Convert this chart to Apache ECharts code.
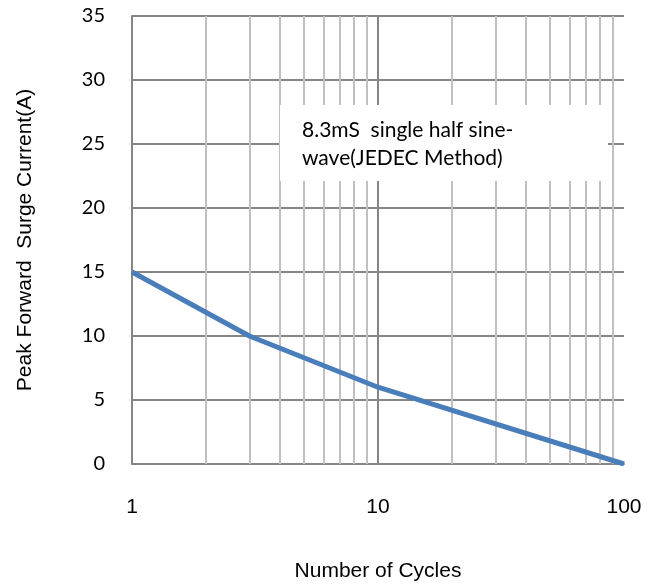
<!DOCTYPE html>
<html>
<head>
<meta charset="utf-8">
<script src="https://cdn.jsdelivr.net/npm/echarts@6/dist/echarts.min.js"></script>
<style>html,body{margin:0;padding:0;background:#fff}#c{width:660px;height:587px}</style>
</head>
<body>
<div id="c"></div>
<script>
const cycles = [1, 3, 10, 100];
const current = [15, 10, 6, 0];
const minorX = [2, 3, 4, 5, 6, 7, 8, 9, 20, 30, 40, 50, 60, 70, 80, 90];
const majorX = [10];
const yTicks = [0, 5, 10, 15, 20, 25, 30, 35];
const xTitle = 'Number of Cycles';
const yTitle = 'Peak Forward  Surge Current(A)';
const noteLines = ['8.3mS  single half sine-', 'wave(JEDEC Method)'];

const chart = echarts.init(document.getElementById('c'));
chart.setOption({
  animation: false,
  grid: {left: 132, right: 36, top: 16, bottom: 121},
  xAxis: {
    type: 'log', logBase: 10, min: 1, max: 100,
    name: xTitle, nameLocation: 'middle', nameGap: 97,
    nameTextStyle: {fontFamily: 'Liberation Sans', fontSize: 21, color: '#000'},
    axisLine: {lineStyle: {color: '#868686', width: 2}},
    axisTick: {show: false},
    axisLabel: {fontFamily: 'Liberation Sans', fontSize: 21, color: '#000', margin: 33},
    splitLine: {show: false}
  },
  yAxis: {
    type: 'value', min: 0, max: 35, interval: 5,
    name: yTitle, nameLocation: 'middle', nameGap: 96, nameRotate: 90,
    nameTextStyle: {fontFamily: 'Liberation Sans', fontSize: 21, color: '#000'},
    axisLine: {show: true, lineStyle: {color: '#868686', width: 2}},
    axisTick: {show: false},
    axisLabel: {fontFamily: 'Lato', fontSize: 20, color: '#000', margin: 27,
      formatter: v => yTicks.includes(v) ? String(v) : ''},
    splitLine: {show: true, lineStyle: {color: '#868686', width: 2}}
  },
  graphic: [
    {type: 'rect', z: 100, shape: {x: 280, y: 105, width: 328, height: 76}, style: {fill: '#ffffff'}},
    {type: 'text', z: 101, x: 302, y: 130, style: {text: noteLines[0], fontFamily: 'Lato', fontSize: 21, fill: '#000', verticalAlign: 'middle'}},
    {type: 'text', z: 101, x: 302, y: 158, style: {text: noteLines[1], fontFamily: 'Lato', fontSize: 21, fill: '#000', verticalAlign: 'middle'}}
  ],
  series: [
    {
      type: 'line', data: cycles.map((c, i) => [c, current[i]]),
      symbol: 'none', lineStyle: {color: '#4a7ebb', width: 5}, z: 5,
      markLine: {
        silent: true, symbol: 'none', label: {show: false},
        lineStyle: {color: '#c0c0c0', width: 2, type: 'solid'},
        data: minorX.map(v => ({xAxis: v})).concat(majorX.map(v => ({xAxis: v, lineStyle: {color: '#868686', width: 2, type: 'solid'}})))
      }
    }
  ]
});
</script>
</body>
</html>
